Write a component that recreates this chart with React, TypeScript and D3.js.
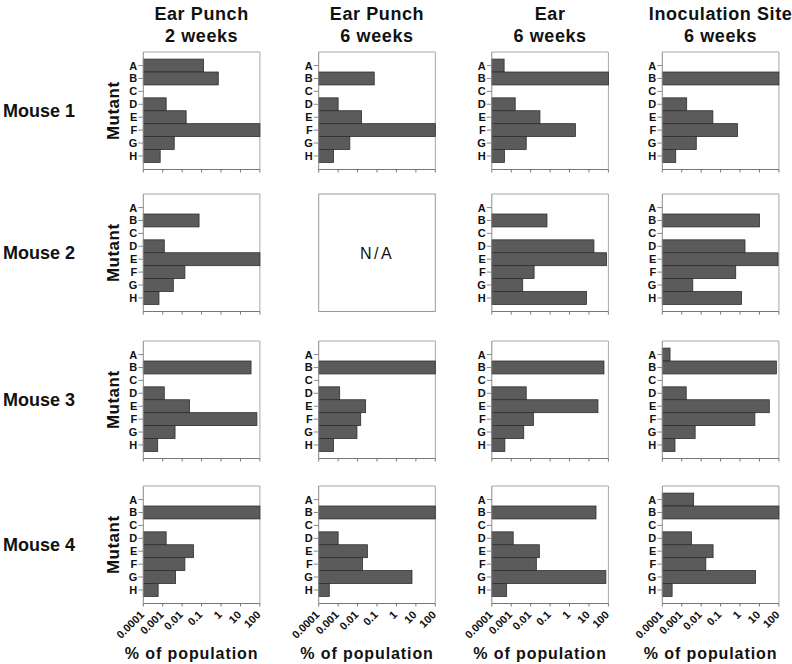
import React from 'react';
import * as d3 from 'd3';

const categories = ['A', 'B', 'C', 'D', 'E', 'F', 'G', 'H'];
const columnTitles = [
  ['Ear Punch', '2 weeks'],
  ['Ear Punch', '6 weeks'],
  ['Ear', '6 weeks'],
  ['Inoculation Site', '6 weeks'],
];
const mice = ['Mouse 1', 'Mouse 2', 'Mouse 3', 'Mouse 4'];
const xTicks = [0.0001, 0.001, 0.01, 0.1, 1, 10, 100];
const xTickLabels = ['0.0001', '0.001', '0.01', '0.1', '1', '10', '100'];

// % of population per mutant (A..H), one row per mouse; null = not detected / N/A
const earPunch2w = [
  [0.126, 0.72, null, 0.0015, 0.016, 100, 0.0039, 0.00074],
  [null, 0.074, null, 0.0012, 100, 0.0138, 0.0035, 0.00064],
  [null, 35, null, 0.0012, 0.024, 70, 0.0043, 0.00055],
  [null, 100, null, 0.0015, 0.038, 0.0138, 0.0046, 0.00058],
];
const earPunch6w = [
  [null, 0.072, null, 0.001, 0.016, 100, 0.004, 0.00058],
  null,
  [null, 100, null, 0.0012, 0.026, 0.0145, 0.0093, 0.00058],
  [null, 100, null, 0.001, 0.032, 0.018, 6.3, 0.00035],
];
const ear6w = [
  [0.00043, 100, null, 0.0016, 0.03, 2, 0.0059, 0.00045],
  [null, 0.069, null, 18, 80, 0.015, 0.0039, 7.4],
  [null, 59, null, 0.0059, 29, 0.0138, 0.0044, 0.00047],
  [null, 23, null, 0.00126, 0.028, 0.0196, 74, 0.00058],
];
const inoc6w = [
  [null, 100, null, 0.0018, 0.04, 0.74, 0.0056, 0.00049],
  [null, 10, null, 1.8, 90, 0.6, 0.0037, 1.2],
  [0.00025, 74, null, 0.0017, 32, 5.8, 0.0049, 0.00045],
  [0.0041, 100, null, 0.0032, 0.041, 0.0174, 6.3, 0.00032],
];

const columns = [earPunch2w, earPunch6w, ear6w, inoc6w];

const colLefts = [143.3, 318.7, 491.8, 662.3];
const rowTops = [52, 194, 341, 486];
const PW = 116.6;
const PH = 117.5;
const FONT = "'Liberation Sans', Arial, Helvetica, sans-serif";

function Panel({ left, top, values, showX, showMutant }) {
  const x = d3.scaleLog().domain([1e-4, 100]).range([left, left + PW]);
  const y = d3
    .scaleBand()
    .domain(categories)
    .range([top, top + PH])
    .paddingInner(0)
    .paddingOuter(0.55);
  const bottom = top + PH;

  if (values === null) {
    return (
      <g>
        <rect x={left} y={top} width={PW} height={PH} fill="none" stroke="#9a9a9a" strokeWidth={1} />
        <text
          x={left + PW / 2}
          y={top + PH / 2 + 6}
          textAnchor="middle"
          fontFamily={FONT}
          fontSize={16}
          letterSpacing={2.5}
          fill="#111"
        >
          N/A
        </text>
      </g>
    );
  }

  return (
    <g>
      {/* frame top/right */}
      <line x1={left} x2={left + PW} y1={top} y2={top} stroke="#a8a8a8" />
      <line x1={left + PW} x2={left + PW} y1={top} y2={bottom} stroke="#a8a8a8" />
      {/* bars */}
      {values.map((v, i) =>
        v == null ? null : (
          <rect
            key={i}
            x={x(1e-4)}
            y={y(categories[i])}
            width={x(v) - x(1e-4)}
            height={y.bandwidth()}
            fill="#5b5b5b"
            stroke="#2e2e2e"
            strokeWidth={0.8}
          />
        )
      )}
      {/* left axis */}
      <line x1={left} x2={left} y1={top} y2={bottom} stroke="#8a8a8a" />
      {categories.map((c) => {
        const cy = (y(c) as number) + y.bandwidth() / 2;
        return (
          <g key={c}>
            <line x1={left - 5} x2={left} y1={cy} y2={cy} stroke="#8a8a8a" />
            <text
              x={left - 6}
              y={cy + 4}
              textAnchor="end"
              fontFamily={FONT}
              fontWeight="bold"
              fontSize={11}
              fill="#111"
            >
              {c}
            </text>
          </g>
        );
      })}
      {/* bottom axis */}
      <line x1={left} x2={left + PW} y1={bottom} y2={bottom} stroke="#777" />
      {xTicks.map((t, i) => (
        <g key={t}>
          <line x1={x(t)} x2={x(t)} y1={bottom} y2={bottom + 3} stroke="#777" />
          {showX && (
            <text
              transform={`translate(${x(t) + 1.5},${bottom + 12}) rotate(-45)`}
              textAnchor="end"
              fontFamily={FONT}
              fontWeight="bold"
              fontSize={11}
              fill="#111"
            >
              {xTickLabels[i]}
            </text>
          )}
        </g>
      ))}
      {showMutant && (
        <text
          transform={`translate(${left - 24.5},${top + PH / 2}) rotate(-90)`}
          textAnchor="middle"
          fontFamily={FONT}
          fontWeight="bold"
          fontSize={17}
          letterSpacing={0.5}
          fill="#111"
        >
          Mutant
        </text>
      )}
    </g>
  );
}

export default function App() {
  return (
    <svg
      width={792}
      height={664}
      style={{ position: 'absolute', left: 0, top: 0, background: '#fff' }}
    >
      <rect x={0} y={0} width={792} height={664} fill="#fff" />
      {columnTitles.map((t, ci) => (
        <g key={ci}>
          <text
            x={colLefts[ci] + PW / 2}
            y={19.5}
            textAnchor="middle"
            fontFamily={FONT}
            fontWeight="bold"
            fontSize={18}
            letterSpacing={0.6}
            fill="#111"
          >
            {t[0]}
          </text>
          <text
            x={colLefts[ci] + PW / 2}
            y={41.7}
            textAnchor="middle"
            fontFamily={FONT}
            fontWeight="bold"
            fontSize={18}
            letterSpacing={0.6}
            fill="#111"
          >
            {t[1]}
          </text>
        </g>
      ))}
      {mice.map((m, ri) => (
        <text
          key={m}
          x={3}
          y={rowTops[ri] + PH / 2 + 6.5}
          fontFamily={FONT}
          fontWeight="bold"
          fontSize={18}
          fill="#111"
        >
          {m}
        </text>
      ))}
      {columns.map((col, ci) =>
        mice.map((m, ri) => (
          <Panel
            key={`${ci}-${ri}`}
            left={colLefts[ci]}
            top={rowTops[ri]}
            values={col[ri]}
            showX={ri === mice.length - 1}
            showMutant={ci === 0}
          />
        ))
      )}
      {colLefts.map((l, ci) => (
        <text
          key={ci}
          x={l + PW / 2 - 10}
          y={659}
          textAnchor="middle"
          fontFamily={FONT}
          fontWeight="bold"
          fontSize={16}
          letterSpacing={0.9}
          fill="#111"
        >
          % of population
        </text>
      ))}
    </svg>
  );
}
